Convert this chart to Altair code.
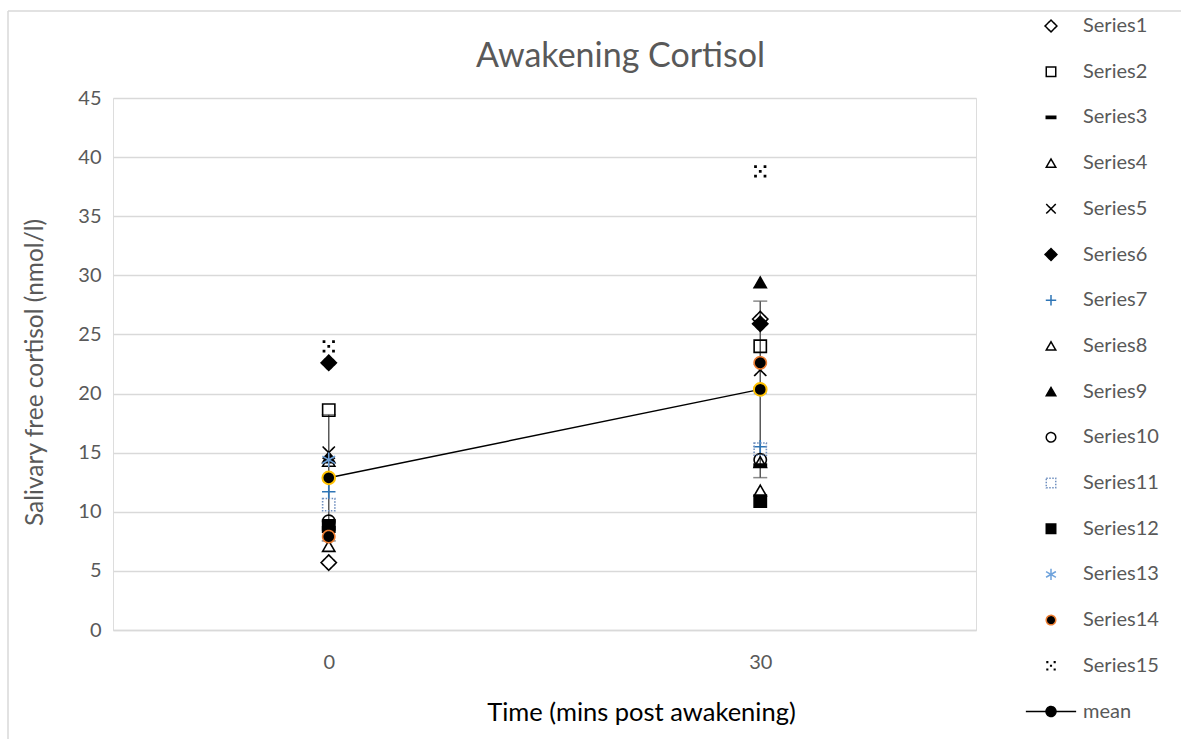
import altair as alt
import numpy as np
import pandas as pd

# Sampling times (minutes after awakening) and the 15 participants
times = ["0", "30"]
series = [f"Series{i}" for i in range(1, 16)]

# Salivary free cortisol (nmol/l) per participant at each time
cortisol_0 = [5.7, 18.6, 8.6, 7.1, 15.0, 22.6, 11.7, 14.3, 14.6, 9.2, 10.6, 8.8, 14.4, 7.9, 24.0]
cortisol_30 = [26.3, 24.0, 13.9, 11.8, 22.0, 25.9, 15.5, 14.2, 29.4, 14.4, 15.3, 10.9, 20.3, 22.6, 38.8]

legend_names = series + ["mean"]

# Marker styling per entry (shape path, fill, stroke, dash)
diamond = "M0,-1.25L1.25,0L0,1.25L-1.25,0Z"
x_cross = "M-1,-1L1,1M-1,1L1,-1"
plus = "M-1.1,0L1.1,0M0,-1.1L0,1.1"
asterisk = "M0,-1.2L0,1.2M-1.04,-0.6L1.04,0.6M-1.04,0.6L1.04,-0.6"
dash = "M-1,-0.25L1,-0.25L1,0.25L-1,0.25Z"
dotted_x = ("M-1,-1h0.45v0.45h-0.45Z M0.55,-1h0.45v0.45h-0.45Z "
            "M-0.225,-0.225h0.45v0.45h-0.45Z M-1,0.55h0.45v0.45h-0.45Z "
            "M0.55,0.55h0.45v0.45h-0.45Z")
mean_sym = ("M-5.3,0L-1.05,0M1.05,0L5.3,0 "
            "M1.05,0A1.05,1.05,0,1,1,-1.05,0A1.05,1.05,0,1,1,1.05,0Z")

shapes = [diamond, "square", dash, "triangle-up", x_cross, diamond, plus, "triangle-up",
          "triangle-up", "circle", "square", "square", asterisk, "circle", dotted_x, mean_sym]
fills = ["transparent", "transparent", "black", "transparent", "transparent", "black",
         "transparent", "transparent", "black", "transparent", "transparent", "black",
         "transparent", "black", "black", "black"]
strokes = ["black", "black", "black", "black", "black", "black", "#2E75B6", "black",
           "black", "black", "#6F8FBF", "black", "#6FA3DC", "#ED7D31", "transparent", "black"]
dashes = [[1, 0]] * 10 + [[1.5, 1.5]] + [[1, 0]] * 5

rows = []
for i, name in enumerate(series):
    rows.append({"series": name, "time": "0", "value": cortisol_0[i]})
    rows.append({"series": name, "time": "30", "value": cortisol_30[i]})
points = pd.DataFrame(rows)

stats = pd.DataFrame({
    "time": times,
    "mean": [np.mean(cortisol_0), np.mean(cortisol_30)],
    "sd": [np.std(cortisol_0), np.std(cortisol_30)],
})
stats["lo"] = stats["mean"] - stats["sd"]
stats["hi"] = stats["mean"] + stats["sd"]

FONT = "Lato"
GREY = "#595959"
GRID = "#D9D9D9"

x_enc = alt.X(
    "time:N",
    sort=times,
    scale=alt.Scale(type="point", padding=0.5),
    axis=alt.Axis(
        title="Time (mins post awakening)", titleFont=FONT, titleFontSize=25.5,
        titleFontWeight="normal", titleColor="#000000", titleX=528, titleY=82,
        titleAlign="center", titleBaseline="middle",
        labelFont=FONT, labelFontSize=20, labelColor=GREY, labelAngle=0, labelPadding=22,
        ticks=False, grid=False, domain=True, domainColor=GRID, domainWidth=1.5,
    ),
)
y_scale = alt.Scale(domain=[0, 45], nice=False)
y_axis = alt.Axis(
    title="Salivary free cortisol (nmol/l)", titleFont=FONT, titleFontSize=24.5,
    titleFontWeight="normal", titleColor=GREY, titleX=-78, titleY=274,
    titleAlign="center", titleBaseline="middle",
    values=list(range(0, 50, 5)), labelFont=FONT, labelFontSize=20, labelColor=GREY,
    labelPadding=12, ticks=False, domain=False, grid=True, gridColor=GRID, gridWidth=1.5,
)

legend = alt.Legend(
    title=None, orient="none", legendX=928, legendY=-82, padding=0,
    labelFont=FONT, labelFontSize=20, labelColor=GREY, labelOffset=22,
    symbolSize=90, symbolStrokeWidth=1.5, rowPadding=25.7, direction="vertical",
)

frame_top = alt.Chart().mark_rule(color=GRID, strokeWidth=1.5).encode(
    x=alt.value(-105), x2=alt.value(1068), y=alt.value(-87))
frame_left = alt.Chart().mark_rule(color=GRID, strokeWidth=1.5).encode(
    x=alt.value(-105), y=alt.value(-87), y2=alt.value(641))

err_bar = alt.Chart(stats).mark_rule(color=GREY, strokeWidth=1.5).encode(
    x=x_enc, y=alt.Y("lo:Q", scale=y_scale, axis=y_axis), y2="hi:Q")
err_cap_lo = alt.Chart(stats).mark_tick(color=GREY, size=14, thickness=1.5, orient="horizontal").encode(
    x=x_enc, y=alt.Y("lo:Q", scale=y_scale))
err_cap_hi = alt.Chart(stats).mark_tick(color=GREY, size=14, thickness=1.5, orient="horizontal").encode(
    x=x_enc, y=alt.Y("hi:Q", scale=y_scale))

mean_line = alt.Chart(stats).mark_line(color="black", strokeWidth=1.5).encode(
    x=x_enc, y=alt.Y("mean:Q", scale=y_scale))

series_pts = alt.Chart(points).mark_point(size=150, strokeWidth=1.6, opacity=1).encode(
    x=x_enc,
    y=alt.Y("value:Q", scale=y_scale),
    shape=alt.Shape("series:N", scale=alt.Scale(domain=legend_names, range=shapes), legend=legend),
    fill=alt.Fill("series:N", scale=alt.Scale(domain=legend_names, range=fills), legend=legend),
    stroke=alt.Stroke("series:N", scale=alt.Scale(domain=legend_names, range=strokes), legend=legend),
    strokeDash=alt.StrokeDash("series:N", scale=alt.Scale(domain=legend_names, range=dashes), legend=legend),
)

mean_pts = alt.Chart(stats).mark_point(
    shape="circle", size=160, filled=True, fill="black", stroke="#FFC000", strokeWidth=2, opacity=1
).encode(x=x_enc, y=alt.Y("mean:Q", scale=y_scale))

chart = alt.layer(
    frame_top, frame_left, err_bar, err_cap_lo, err_cap_hi, mean_line, series_pts, mean_pts
).properties(
    width=863,
    height=532,
    autosize=alt.AutoSizeParams(type="none"),
    padding={"left": 113, "top": 98, "right": 205, "bottom": 109},
    title=alt.TitleParams(
        "Awakening Cortisol", font=FONT, fontSize=34, fontWeight="normal", color=GREY,
        anchor="middle", dx=76, dy=115, baseline="middle", offset=34,
    ),
).configure_view(stroke=None).configure(background="white")

chart.save("out.html", embed_options={"renderer": "svg", "actions": False})
